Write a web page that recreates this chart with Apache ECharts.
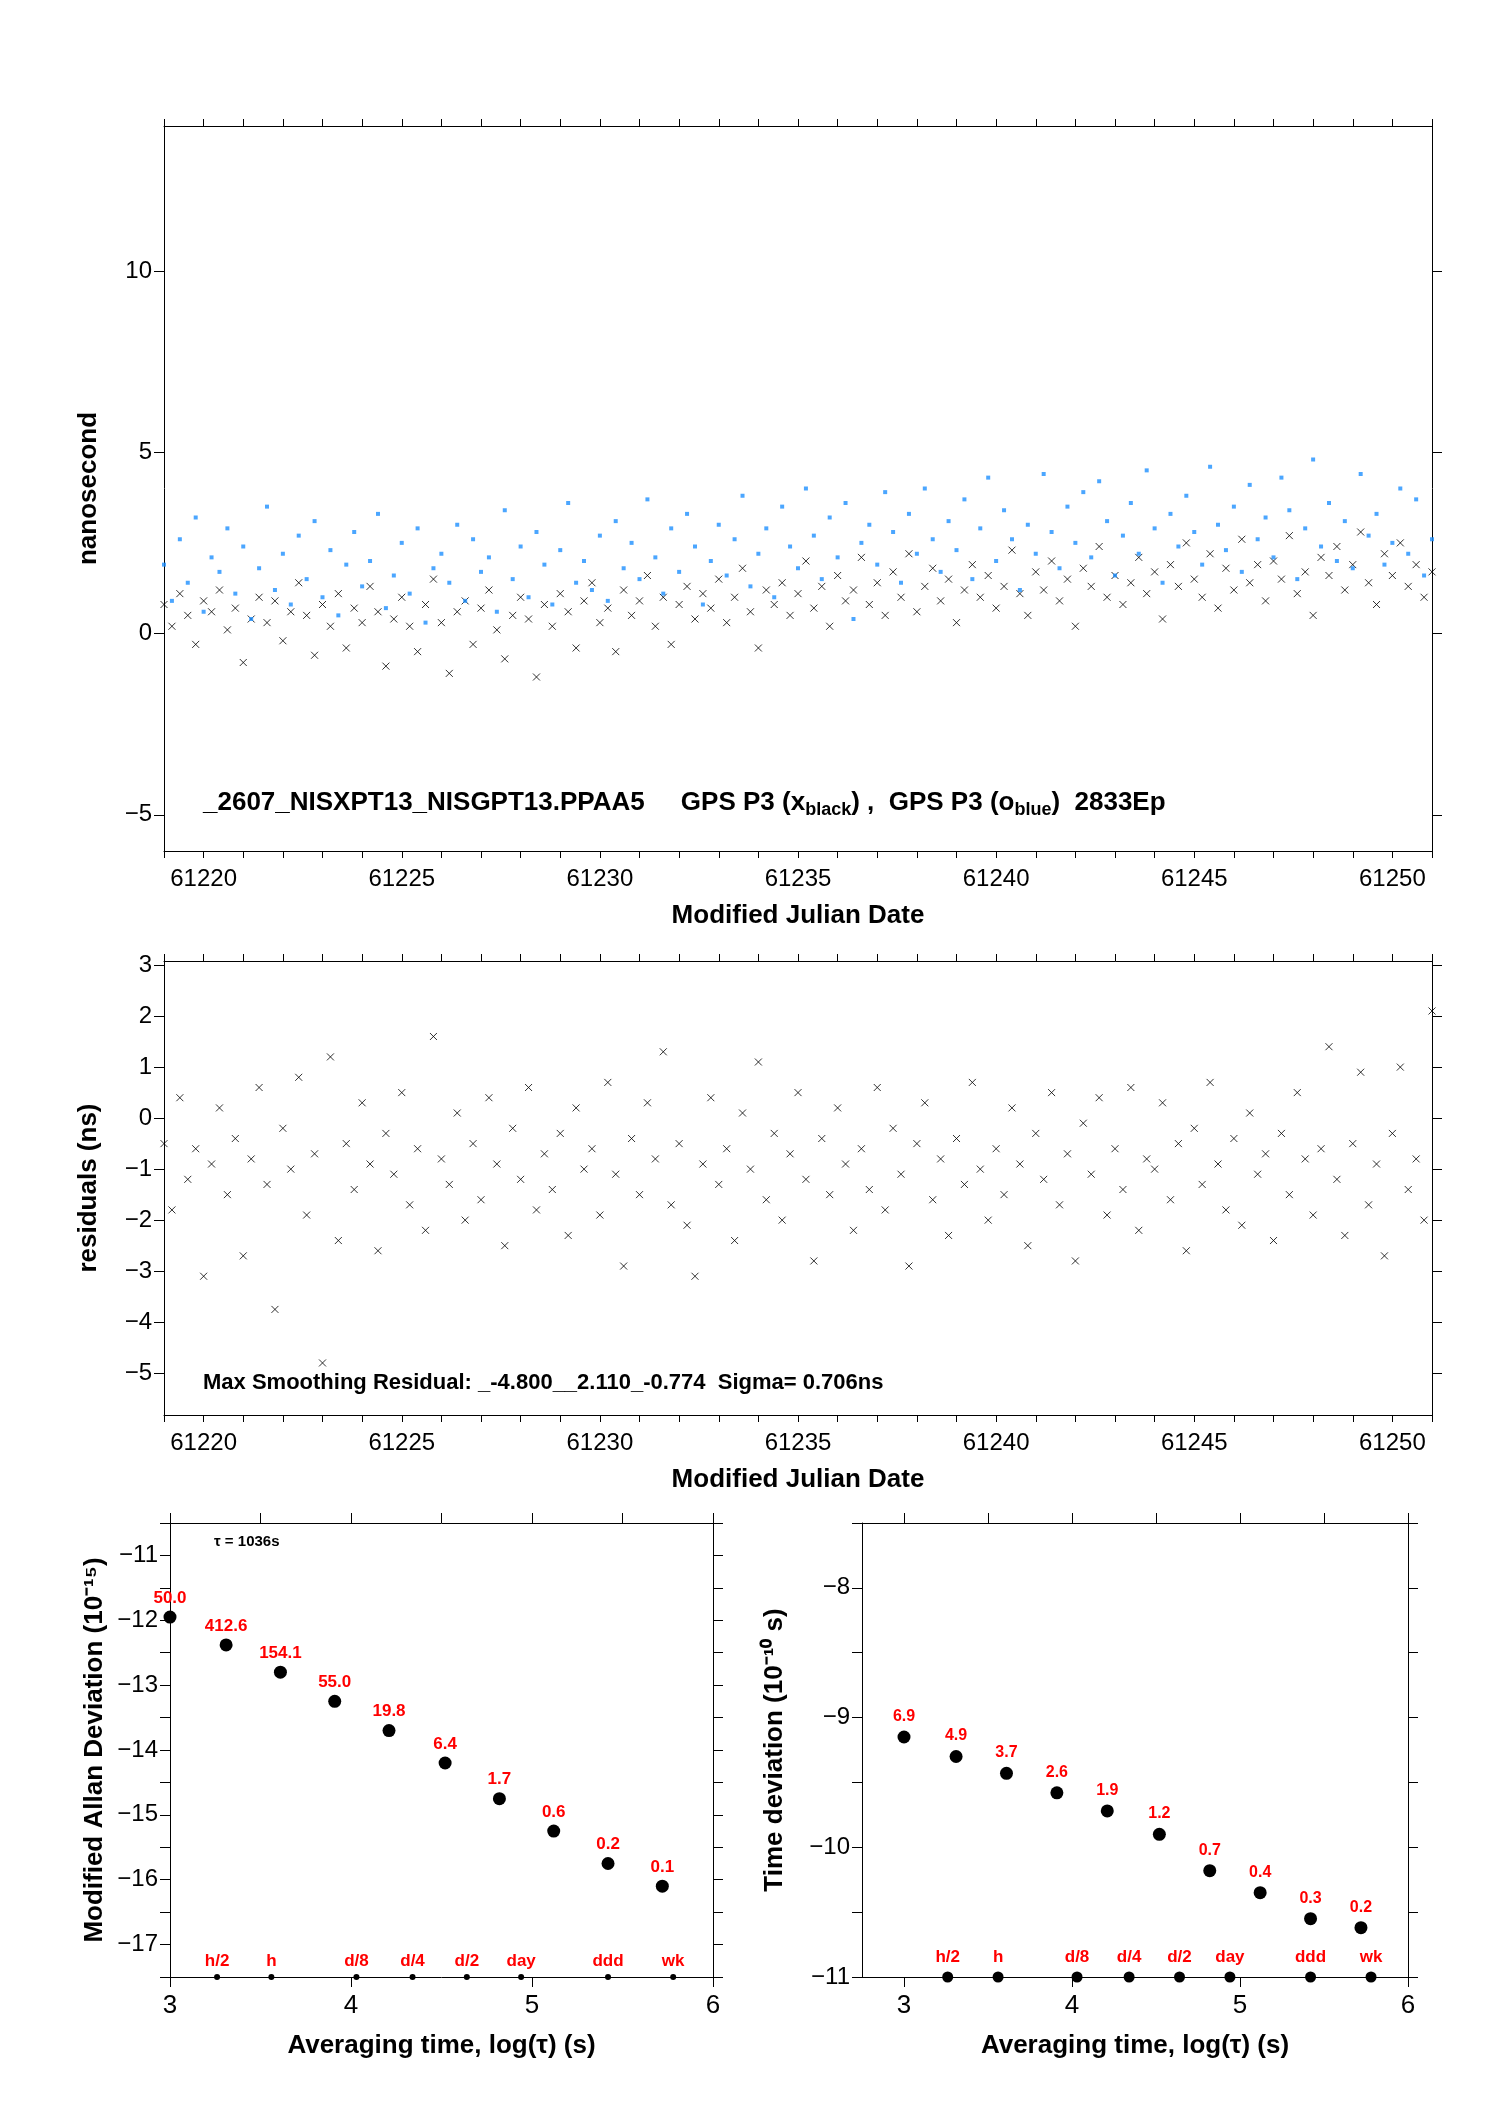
<!DOCTYPE html>
<html lang="en">
<head>
<meta charset="UTF-8">
<title>GPS P3</title>
<script src="https://cdn.jsdelivr.net/npm/echarts@6/dist/echarts.min.js"></script>
<style>body{margin:0;background:#fff}</style>
</head>
<body>
<div id="main" style="width:1488px;height:2105px;"></div>
<script>
// MJD start, step between samples
var mjdStart = 61219, mjdStep = 0.2;

var blackNs = [
0.8,0.2,1.1,0.5,-0.3,0.9,0.6,1.2,0.1,0.7,
-0.8,0.4,1.0,0.3,0.9,-0.2,0.6,1.4,0.5,-0.6,
0.8,0.2,1.1,-0.4,0.7,0.3,1.3,0.6,-0.9,0.4,
1.0,0.2,-0.5,0.8,1.5,0.3,-1.1,0.6,0.9,-0.3,
0.7,1.2,0.1,-0.7,0.5,1.0,0.4,-1.2,0.8,0.2,
1.1,0.6,-0.4,0.9,1.4,0.3,0.7,-0.5,1.2,0.5,
0.9,1.6,0.2,1.0,-0.3,0.8,1.3,0.4,1.1,0.7,
1.5,0.3,1.0,1.8,0.6,-0.4,1.2,0.8,1.4,0.5,
1.1,2.0,0.7,1.3,0.2,1.6,0.9,1.2,2.1,0.8,
1.4,0.5,1.7,1.0,2.2,0.6,1.3,1.8,0.9,1.5,
0.3,1.2,1.9,1.0,1.6,0.7,1.3,2.3,1.1,0.5,
1.7,1.2,2.0,0.9,1.5,0.2,1.8,1.3,2.4,1.0,
1.6,0.8,1.4,2.1,1.1,1.7,0.4,1.9,1.3,2.5,
1.5,1.0,2.2,0.7,1.8,1.2,2.6,1.4,1.9,0.9,
2.0,1.5,2.7,1.1,1.7,0.5,2.1,1.6,2.4,1.2,
1.9,2.8,1.4,0.8,2.2,1.6,2.5,1.3,1.9,1.0,
1.7];

var blueNs = [
1.9,0.9,2.6,1.4,3.2,0.6,2.1,1.7,2.9,1.1,
2.4,0.4,1.8,3.5,1.2,2.2,0.8,2.7,1.5,3.1,
1.0,2.3,0.5,1.9,2.8,1.3,2.0,3.3,0.7,1.6,
2.5,1.1,2.9,0.3,1.8,2.2,1.4,3.0,0.9,2.6,
1.7,2.1,0.6,3.4,1.5,2.4,1.0,2.8,1.9,0.8,
2.3,3.6,1.4,2.0,1.2,2.7,0.9,3.1,1.8,2.5,
1.5,3.7,2.1,1.1,2.9,1.7,3.3,2.4,0.8,2.0,
3.0,1.6,2.6,3.8,1.3,2.2,2.9,1.0,3.5,2.4,
1.8,4.0,2.7,1.5,3.2,2.1,3.6,0.4,2.5,3.0,
1.9,3.9,2.8,1.4,3.3,2.2,4.0,2.6,1.7,3.1,
2.3,3.7,1.5,2.9,4.3,2.0,3.4,2.6,1.2,3.0,
2.2,4.4,2.8,1.8,3.5,2.5,3.9,2.1,4.2,3.1,
1.6,2.7,3.6,2.2,4.5,2.9,1.4,3.3,2.4,3.8,
2.8,1.9,4.6,3.0,2.3,3.5,1.7,4.1,2.6,3.2,
2.1,4.3,3.4,1.5,2.9,4.8,2.4,3.6,2.0,3.1,
1.8,4.4,2.7,3.3,1.9,2.5,4.0,2.2,3.7,1.6,
2.6];

var residNs = [
-0.5,-1.8,0.4,-1.2,-0.6,-3.1,-0.9,0.2,-1.5,-0.4,
-2.7,-0.8,0.6,-1.3,-3.75,-0.2,-1.0,0.8,-1.9,-0.7,
-4.8,1.2,-2.4,-0.5,-1.4,0.3,-0.9,-2.6,-0.3,-1.1,
0.5,-1.7,-0.6,-2.2,1.6,-0.8,-1.3,0.1,-2.0,-0.5,
-1.6,0.4,-0.9,-2.5,-0.2,-1.2,0.6,-1.8,-0.7,-1.4,
-0.3,-2.3,0.2,-1.0,-0.6,-1.9,0.7,-1.1,-2.9,-0.4,
-1.5,0.3,-0.8,1.3,-1.7,-0.5,-2.1,-3.1,-0.9,0.4,
-1.3,-0.6,-2.4,0.1,-1.0,1.1,-1.6,-0.3,-2.0,-0.7,
0.5,-1.2,-2.8,-0.4,-1.5,0.2,-0.9,-2.2,-0.6,-1.4,
0.6,-1.8,-0.2,-1.1,-2.9,-0.5,0.3,-1.6,-0.8,-2.3,
-0.4,-1.3,0.7,-1.0,-2.0,-0.6,-1.5,0.2,-0.9,-2.5,
-0.3,-1.2,0.5,-1.7,-0.7,-2.8,-0.1,-1.1,0.4,-1.9,
-0.6,-1.4,0.6,-2.2,-0.8,-1.0,0.3,-1.6,-0.5,-2.6,
-0.2,-1.3,0.7,-0.9,-1.8,-0.4,-2.1,0.1,-1.1,-0.7,
-2.4,-0.3,-1.5,0.5,-0.8,-1.9,-0.6,1.4,-1.2,-2.3,
-0.5,0.9,-1.7,-0.9,-2.7,-0.3,1.0,-1.4,-0.8,-2.0,
2.1];

var mjdTicks = [61220, 61225, 61230, 61235, 61240, 61245, 61250];
var nsTicks = [-5, 0, 5, 10];
var residTicks = [-5, -4, -3, -2, -1, 0, 1, 2, 3];
var logTicks = [3, 4, 5, 6];

var logTau = [3.0,3.31,3.61,3.91,4.21,4.52,4.82,5.12,5.42,5.72];
var mdev = [-11.95,-12.38,-12.8,-13.25,-13.7,-14.2,-14.75,-15.25,-15.75,-16.1];
var mdevLabels = ['50.0','412.6','154.1','55.0','19.8','6.4','1.7','0.6','0.2','0.1'];
var tdev = [-9.15,-9.3,-9.43,-9.58,-9.72,-9.9,-10.18,-10.35,-10.55,-10.62];
var tdevLabels = ['6.9','4.9','3.7','2.6','1.9','1.2','0.7','0.4','0.3','0.2'];
var markX = [3.26,3.56,4.03,4.34,4.64,4.94,5.42,5.78];
var markLabels = ['h/2','h','d/8','d/4','d/2','day','ddd','wk'];

function pairs(vals) {
    return vals.map(function (v, i) { return [mjdStart + i * mjdStep, v]; });
}

var FONT = 'Liberation Sans';
var crossPath = 'path://M0,0L10,10M10,0L0,10';
var minus = function (v) { return String(v).replace('-', '\u2212'); };
var dayTicks = [];
for (var d = 61219; d <= 61251; d++) dayTicks.push(d);

function xAxes(gi) {
    return [{
        gridIndex: gi, type: 'value', min: 61219, max: 61251,
        axisLine: { onZero: false, lineStyle: { color: '#000' } },
        axisTick: { show: true, length: 7, customValues: dayTicks, lineStyle: { color: '#000' } },
        splitLine: { show: false },
        axisLabel: { color: '#000', fontSize: 24, fontFamily: FONT, margin: 16, customValues: mjdTicks,
            formatter: function (v) { return String(v); } },
        name: 'Modified Julian Date', nameLocation: 'middle', nameGap: 52,
        nameTextStyle: { color: '#000', fontSize: 26, fontWeight: 'bold', fontFamily: FONT }
    }, {
        gridIndex: gi, type: 'value', min: 61219, max: 61251, position: 'top',
        axisLine: { onZero: false, lineStyle: { color: '#000' } },
        axisTick: { show: true, length: 7, customValues: dayTicks, lineStyle: { color: '#000' } },
        splitLine: { show: false }, axisLabel: { show: false }
    }];
}

function yAxes(gi, min, max, ticks, name, gap, interval, labelFmt) {
    var tk = { show: true, length: 10, lineStyle: { color: '#000' } };
    var lb = { color: '#000', fontSize: 24, fontFamily: FONT, margin: 12, formatter: labelFmt || minus };
    if (ticks) { tk.customValues = ticks; lb.customValues = ticks; }
    var tk2 = Object.assign({}, tk);
    return [{
        gridIndex: gi, type: 'value', min: min, max: max, interval: interval,
        axisLine: { onZero: false, lineStyle: { color: '#000' } },
        axisTick: tk, splitLine: { show: false }, axisLabel: lb,
        name: name, nameLocation: 'middle', nameGap: gap,
        nameTextStyle: { color: '#000', fontSize: 26, fontWeight: 'bold', fontFamily: FONT }
    }, {
        gridIndex: gi, type: 'value', min: min, max: max, interval: interval, position: 'right',
        axisLine: { onZero: false, lineStyle: { color: '#000' } },
        axisTick: tk2, splitLine: { show: false }, axisLabel: { show: false }
    }];
}

function logAxes(gi, min) {
    return [{
        gridIndex: gi, type: 'value', min: min, max: 6,
        axisLine: { onZero: false, lineStyle: { color: '#000' } },
        axisTick: { show: true, length: 10, lineStyle: { color: '#000' }, customValues: logTicks },
        splitLine: { show: false },
        axisLabel: { color: '#000', fontSize: 26, fontFamily: FONT, margin: 16, customValues: logTicks },
        name: 'Averaging time, log(\u03c4) (s)', nameLocation: 'middle', nameGap: 56,
        nameTextStyle: { color: '#000', fontSize: 26, fontWeight: 'bold', fontFamily: FONT }
    }, {
        gridIndex: gi, type: 'value', min: min, max: 6, position: 'top',
        axisLine: { onZero: false, lineStyle: { color: '#000' } },
        axisTick: { show: true, length: 10, lineStyle: { color: '#000' },
            customValues: [3, 3.5, 4, 4.5, 5, 5.5, 6] },
        splitLine: { show: false }, axisLabel: { show: false }
    }];
}

var option = {
    backgroundColor: '#fff',
    animation: false,
    grid: [
        { left: 164, width: 1268, top: 126, height: 725 },
        { left: 164, width: 1268, top: 961, height: 454 },
        { left: 170, width: 543, top: 1523, height: 454 },
        { left: 862, width: 546, top: 1523, height: 454 }
    ],
    xAxis: [].concat(xAxes(0), xAxes(1), logAxes(2, 3), logAxes(3, 2.75)),
    yAxis: [].concat(
        yAxes(0, -6, 14, nsTicks, 'nanosecond', 62),
        yAxes(1, -5.82, 3.08, residTicks, 'residuals (ns)', 62),
        yAxes(2, -17.5, -10.5, null, 'Modified Allan Deviation (10\u207b\u00b9\u2075)', 62, 0.5,
            function (v) { return Number.isInteger(v) ? minus(v) : ''; }),
        yAxes(3, -11, -7.5, null, 'Time deviation (10\u207b\u00b9\u2070 s)', 74, 0.5,
            function (v) { return Number.isInteger(v) ? minus(v) : ''; })
    ),
    graphic: [
        { type: 'text', left: 203, top: 790, style: {
            text: '_2607_NISXPT13_NISGPT13.PPAA5     GPS P3 (x{s|black}) ,  GPS P3 (o{s|blue})  2833Ep',
            font: 'bold 26px "Liberation Sans"', fill: '#000',
            rich: { s: { fontSize: 18, fontWeight: 'bold', fontFamily: FONT, padding: [14, 0, 0, 0] } } } },
        { type: 'text', left: 203, top: 1372, style: {
            text: 'Max Smoothing Residual: _-4.800__2.110_-0.774  Sigma= 0.706ns',
            font: 'bold 22px "Liberation Sans"', fill: '#000' } },
        { type: 'text', left: 214, top: 1534, style: {
            text: '\u03c4 = 1036s', font: 'bold 15px "Liberation Sans"', fill: '#000' } }
    ],
    series: [
        { type: 'scatter', xAxisIndex: 0, yAxisIndex: 0, data: pairs(blackNs),
          symbol: crossPath, symbolSize: 7,
          itemStyle: { color: 'none', borderColor: '#000', borderWidth: 1 } },
        { type: 'scatter', xAxisIndex: 0, yAxisIndex: 0, data: pairs(blueNs),
          symbol: 'rect', symbolSize: 4, itemStyle: { color: '#1e90ff' } },
        { type: 'scatter', xAxisIndex: 2, yAxisIndex: 2, data: pairs(residNs),
          symbol: crossPath, symbolSize: 7,
          itemStyle: { color: 'none', borderColor: '#000', borderWidth: 1 } },
        { type: 'scatter', xAxisIndex: 4, yAxisIndex: 4, clip: false,
          data: logTau.map(function (x, i) { return [x, mdev[i]]; }),
          symbolSize: 13, itemStyle: { color: '#000', opacity: 1 },
          label: { show: true, position: 'top', distance: 4, color: '#ff0000', fontWeight: 'bold',
              fontSize: 17, fontFamily: FONT,
              formatter: function (p) { return mdevLabels[p.dataIndex]; } } },
        { type: 'scatter', xAxisIndex: 4, yAxisIndex: 4, clip: false,
          data: markX.map(function (x) { return [x, -17.5]; }),
          symbolSize: 6, itemStyle: { color: '#000', opacity: 1 },
          label: { show: true, position: 'top', distance: 4, color: '#ff0000', fontWeight: 'bold',
              fontSize: 17, fontFamily: FONT,
              formatter: function (p) { return markLabels[p.dataIndex]; } } },
        { type: 'scatter', xAxisIndex: 6, yAxisIndex: 6, clip: false,
          data: logTau.map(function (x, i) { return [x, tdev[i]]; }),
          symbolSize: 13, itemStyle: { color: '#000', opacity: 1 },
          label: { show: true, position: 'top', distance: 6, color: '#ff0000', fontWeight: 'bold',
              fontSize: 16, fontFamily: FONT,
              formatter: function (p) { return tdevLabels[p.dataIndex]; } } },
        { type: 'scatter', xAxisIndex: 6, yAxisIndex: 6, clip: false,
          data: markX.map(function (x) { return [x, -11]; }),
          symbolSize: 11, itemStyle: { color: '#000', opacity: 1 },
          label: { show: true, position: 'top', distance: 6, color: '#ff0000', fontWeight: 'bold',
              fontSize: 17, fontFamily: FONT,
              formatter: function (p) { return markLabels[p.dataIndex]; } } }
    ]
};

var myChart = echarts.init(document.getElementById('main'));
myChart.setOption(option);
</script>
</body>
</html>
